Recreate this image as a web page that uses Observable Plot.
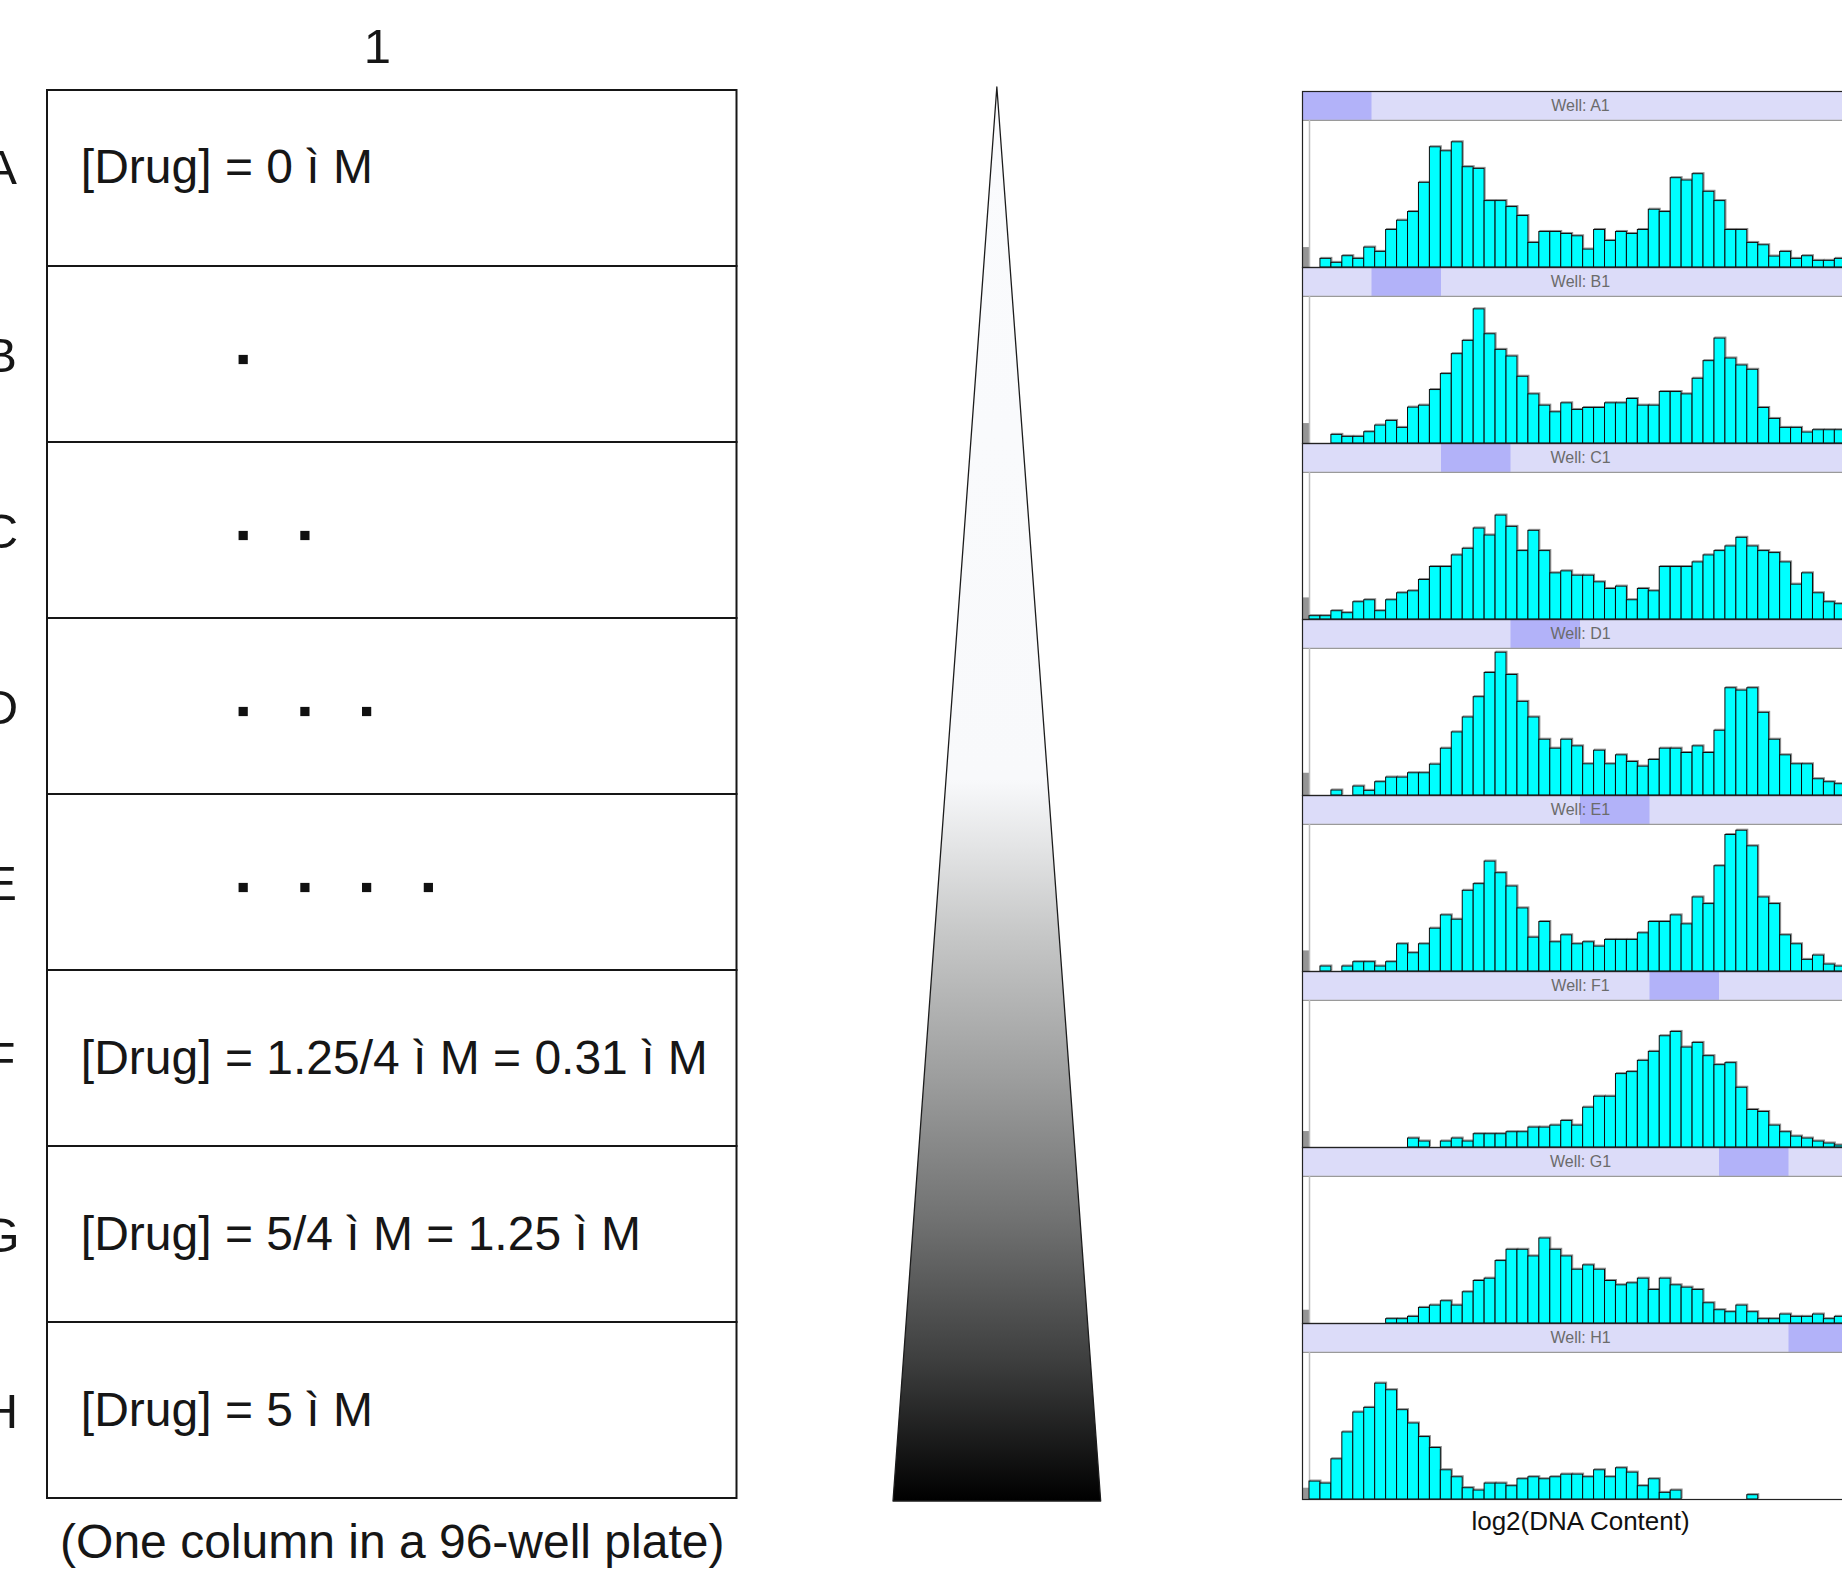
<!DOCTYPE html>
<html><head><meta charset="utf-8">
<script src="https://cdn.jsdelivr.net/npm/d3@7"></script>
<script src="https://cdn.jsdelivr.net/npm/@observablehq/plot@0.6"></script>
<style>
html,body{margin:0;padding:0;background:#fff;overflow:hidden;}
#page{position:relative;width:1842px;height:1575px;overflow:hidden;background:#fff;}
#page > div{position:absolute;top:0;}
#plate{left:0;width:760px;} #wedge{left:850px;width:300px;} #hist{left:1302px;width:556px;}
svg{overflow:visible;max-width:none !important;}
</style></head>
<body><div id="page"><div id="plate"></div><div id="wedge"></div><div id="hist"></div></div>
<script>
// ---------- data ----------
const rows = ["A", "B", "C", "D", "E", "F", "G", "H"];
const columnLabels = ["1"];
const rowTexts = ["[Drug] = 0 ì M", "", "", "", "", "[Drug] = 1.25/4 ì M = 0.31 ì M", "[Drug] = 5/4 ì M = 1.25 ì M", "[Drug] = 5 ì M"];
const rowDotCounts = [0, 1, 2, 3, 4, 0, 0, 0];
const plateCaption = "(One column in a 96-well plate)";
const wedgeDose = [0, 1];
const wells = ["A1", "B1", "C1", "D1", "E1", "F1", "G1", "H1"];
const xLabel = "log2(DNA Content)";
const countsA1 = [0,26,14,34,26,60,47,113,141,167,255,362,350,377,302,297,200,200,182,155,74,107,107,101,94,54,113,80,107,101,113,174,167,269,262,281,228,200,113,113,74,67,33,47,26,34,20,20,26];
const countsB1 = [0,0,26,20,20,34,54,68,47,108,114,161,209,269,309,404,329,282,262,201,148,114,94,121,101,107,107,121,121,134,114,114,155,155,148,195,248,316,256,235,222,107,74,47,47,33,40,40,40];
const countsC1 = [10,10,25,19,52,58,25,58,79,85,119,158,158,193,213,274,253,313,279,206,267,206,139,145,132,132,112,92,99,58,92,85,158,158,158,172,193,206,220,246,220,206,200,172,105,139,79,52,46];
const countsD1 = [0,0,15,0,27,14,40,54,54,67,67,93,141,190,235,296,369,430,363,282,235,168,141,168,148,94,135,94,121,101,87,107,141,141,128,148,128,195,323,316,323,249,168,121,94,94,49,40,34];
const countsE1 = [0,15,0,15,28,28,15,28,82,55,82,129,169,156,243,263,331,296,256,190,102,149,88,109,82,88,75,95,95,95,115,149,149,169,142,223,203,317,411,424,377,223,203,109,82,35,48,21,15];
const countsF1 = [0,0,0,0,0,0,0,0,0,27,18,0,18,27,18,40,40,40,46,46,60,60,66,80,66,120,153,153,221,227,261,288,335,348,301,315,275,248,254,180,113,107,66,46,33,27,18,12,6];
const countsG1 = [0,0,0,0,0,0,0,13,13,20,47,54,67,54,94,128,135,188,222,222,202,256,222,202,162,175,162,128,115,121,135,101,135,115,108,101,61,40,34,54,34,13,13,27,20,20,27,13,20];
const countsH1 = [54,48,121,202,262,276,349,329,269,229,188,155,88,67,34,27,48,48,40,61,67,61,67,75,75,67,88,67,94,81,40,61,20,27,0,0,0,0,0,0,13,0,0,0,0,0,0,0,0];
const offScaleCounts = [60, 60, 65, 67, 62, 48, 40, 34];

const font = "'Liberation Sans', Arial, Helvetica, sans-serif";

// ---------- left: plate column ----------
const dotData = rows.flatMap((r, i) => d3.range(rowDotCounts[i]).map(k => ({row: r, slot: k})));
const textData = rows.map((r, i) => ({row: r, text: rowTexts[i], first: i === 0})).filter(d => d.text);
const plate = Plot.plot({
  width: 760, height: 1575,
  marginLeft: 47, marginRight: 23.5, marginTop: 87, marginBottom: 74,
  x: {domain: [-3.17, 8.0], axis: null},
  y: {domain: rows, axis: null, padding: 0},
  style: {fontFamily: font, background: "transparent", color: "#111", maxWidth: "none"},
  marks: [
    Plot.cell(rows, {y: d => d, fill: "white", stroke: "#161616", strokeWidth: 2}),
    Plot.text(rows.slice(0, 1), {y: d => d, text: d => d, frameAnchor: "left", dx: -47, dy: -10, textAnchor: "middle", fontSize: 49, fill: "#161616"}),
    Plot.text(rows.slice(1), {y: d => d, text: d => d, frameAnchor: "left", dx: -47, dy: 2, textAnchor: "middle", fontSize: 49, fill: "#161616"}),
    Plot.text(columnLabels, {text: d => d, frameAnchor: "top", lineAnchor: "middle", dy: -40, dx: -15, fontSize: 49, fill: "#161616"}),
    Plot.text(textData.filter(d => d.first), {x: () => -2.63, y: "row", text: "text", textAnchor: "start", dy: -11, fontSize: 48, fill: "#161616"}),
    Plot.text(textData.filter(d => !d.first), {x: () => -2.63, y: "row", text: "text", textAnchor: "start", fontSize: 48, fill: "#161616"}),
    Plot.dot(dotData, {x: "slot", y: "row", symbol: "square", r: 5.2, fill: "#111", stroke: "none", dy: 5}),
    Plot.text([plateCaption], {text: d => d, frameAnchor: "bottom", lineAnchor: "middle", dy: 41, fontSize: 48, fill: "#161616"})
  ]
});
document.getElementById("plate").appendChild(plate);

// ---------- middle: dose wedge ----------
const wedge = Plot.plot({
  width: 300, height: 1575,
  marginLeft: 43, marginRight: 49.3, marginTop: 87, marginBottom: 74,
  x: {domain: [-1, 1], axis: null},
  y: {domain: [0, 1], reverse: true, axis: null},
  style: {background: "transparent", maxWidth: "none"},
  marks: [
    Plot.areaX(wedgeDose, {y: d => d, x1: d => -d, x2: d => d, fill: "url(#doseGradient)", stroke: "#1c1c1c", strokeWidth: 1.3})
  ]
});
const grad = d3.select(wedge).insert("defs", ":first-child")
  .append("linearGradient").attr("id", "doseGradient")
  .attr("x1", 0).attr("y1", 0).attr("x2", 0).attr("y2", 1);
[[0, "#fafbfd"], [0.49, "#f8f9fb"], [0.54, "#e2e3e4"], [0.6, "#c6c7c7"], [0.7, "#9d9e9e"],
 [0.8, "#717272"], [0.9, "#3e3f3f"], [1, "#000"]].forEach(([o, c]) =>
  grad.append("stop").attr("offset", o).attr("stop-color", c));
document.getElementById("wedge").appendChild(wedge);

// ---------- right: histograms ----------
const wellCounts = [countsA1, countsB1, countsC1, countsD1, countsE1, countsF1, countsG1, countsH1];
const binData = wells.flatMap((w, wi) => wellCounts[wi].map((c, i) => ({well: w, bin: i, count: c}))).filter(d => d.count > 0);
const stubData = wells.map((w, i) => ({well: w, h: offScaleCounts[i]}));
const xLo = -0.64, xHi = 50.16;
const blockW = (xHi - xLo) / wells.length;
const yTop = 443, stripTop = 530;
const hist = Plot.plot({
  width: 556, height: 1575,
  marginLeft: 0, marginRight: 0, marginTop: 88, marginBottom: 73,
  x: {domain: [xLo, xHi], axis: null},
  y: {domain: [0, stripTop], axis: null},
  fy: {domain: wells, axis: null, padding: 0},
  style: {fontFamily: font, background: "transparent", maxWidth: "none"},
  marks: [
    Plot.rect(wells, {fy: d => d, x1: () => xLo, x2: () => xHi, y1: () => yTop, y2: () => stripTop, fill: "#dcdcf9"}),
    Plot.rect(wells, {fy: d => d, x1: (d, i) => xLo + i * blockW, x2: (d, i) => xLo + (i + 1) * blockW, y1: () => yTop, y2: () => stripTop, fill: "#b2b2f9"}),
    Plot.text(wells, {fy: d => d, y: () => (yTop + stripTop) / 2, text: d => "Well: " + d, fill: "#6b6b6b", fontSize: 16}),
    Plot.ruleY(wells, {fy: d => d, y: () => yTop, stroke: "#9a9a9a", strokeWidth: 1.2}),
    Plot.rect(stubData, {fy: "well", x1: () => xLo, x2: () => 0, y1: () => 0, y2: "h", fill: "#959595"}),
    Plot.ruleX(wells, {fy: d => d, x: () => 0, y1: () => 0, y2: () => yTop, stroke: "#bdbdbd", strokeWidth: 1.5}),
    Plot.rect(binData, {fy: "well", x1: "bin", x2: d => d.bin + 1, y1: () => 0, y2: "count", fill: "none", stroke: "#8c8c8c", dx: 1, dy: -1}),
    Plot.rect(binData, {fy: "well", x1: "bin", x2: d => d.bin + 1, y1: () => 0, y2: "count", fill: "#00ffff", stroke: "#0c0c0c", strokeWidth: 1}),
    Plot.frame({stroke: "#222", strokeWidth: 1.2}),
    Plot.text([xLabel], {fy: () => "H1", text: d => d, frameAnchor: "bottom", lineAnchor: "middle", dy: 22, fontSize: 26, fill: "#111"})
  ]
});
document.getElementById("hist").appendChild(hist);
</script>
</body></html>
